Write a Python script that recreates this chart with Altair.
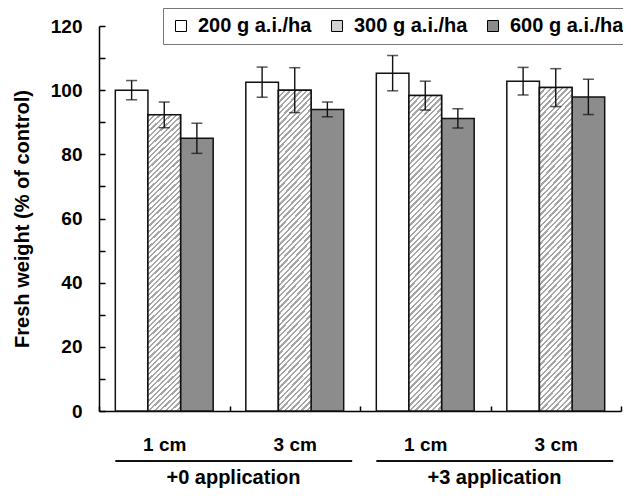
import altair as alt
import pandas as pd

# ---------------- data ----------------
groups = ["+0|1 cm", "+0|3 cm", "+3|1 cm", "+3|3 cm"]
series = ["200 g a.i./ha", "300 g a.i./ha", "600 g a.i./ha"]

mean_200 = [100.0, 102.5, 105.3, 102.8]
mean_300 = [92.3, 100.0, 98.3, 100.8]
mean_600 = [85.0, 94.0, 91.2, 97.9]

err_200 = [3.0, 4.7, 5.5, 4.3]
err_300 = [4.0, 7.0, 4.5, 5.9]
err_600 = [4.7, 2.3, 3.0, 5.5]

apps = ["+0 application", "+3 application"]
app_first = ["+0|1 cm", "+3|1 cm"]
app_last = ["+0|3 cm", "+3|3 cm"]

y_ticks = [0, 10, 20, 30, 40, 50, 60, 70, 80, 90, 100, 110, 120]

# ---------------- tables ----------------
rows = []
for s, ms, es in zip(series, [mean_200, mean_300, mean_600], [err_200, err_300, err_600]):
    for g, m, e in zip(groups, ms, es):
        rows.append({"group": g, "series": s, "mean": m, "lo": m - e, "hi": m + e})
df = pd.DataFrame(rows)
app_df = pd.DataFrame({"app": apps, "first": app_first, "last": app_last})

FONT = "Liberation Sans"
W, H = 522, 385
PAD = {"left": 91, "top": 18, "right": 2, "bottom": 79}

# hatch gradient ("/" stripes) for the 300 g bars
bw, bh = 32.7, 310.0
k = (bw + bh) / (bw * bw + bh * bh)
period = 5.5
n = int(round((bw + bh) / period))
frac = 0.42
stops = []
for i in range(n):
    a = i / n
    b = (i + frac) / n
    c = (i + 1) / n
    stops += [
        alt.GradientStop(color="#a6a6a6", offset=a),
        alt.GradientStop(color="#a6a6a6", offset=b),
        alt.GradientStop(color="#ffffff", offset=b),
        alt.GradientStop(color="#ffffff", offset=c),
    ]
hatch = alt.LinearGradient(gradient="linear", stops=stops, x1=0, y1=0, x2=k * bw, y2=k * bh)

x_scale = alt.Scale(domain=groups, paddingInner=0, paddingOuter=0)
xo_scale = alt.Scale(domain=series, paddingInner=0, paddingOuter=0.5)
y_scale = alt.Scale(domain=[0, 120], nice=False, zero=True)

x_axis = alt.Axis(
    title=None,
    labelExpr="split(datum.label, '|')[1]",
    labelAngle=0,
    tickBand="extent",
    tickSize=alt.ExprRef(expr="-5"),
    tickWidth=1.5,
    tickColor="black",
    domainColor="black",
    domainWidth=1.5,
    labelPadding=29,
    labelFont=FONT,
    labelFontSize=19,
    labelFontWeight="bold",
    labelColor="black",
)
y_axis = alt.Axis(
    title="Fresh weight (% of control)",
    values=y_ticks,
    labelExpr="datum.value % 20 == 0 ? datum.label : ''",
    tickSize=alt.ExprRef(expr="-6"),
    tickWidth=1.5,
    tickColor="black",
    domainColor="black",
    domainWidth=1.5,
    labelPadding=23,
    labelFont=FONT,
    labelFontSize=19,
    labelFontWeight="bold",
    labelColor="black",
    titleFont=FONT,
    titleFontSize=20,
    titleFontWeight="bold",
    titleColor="black",
    titlePadding=18,
    grid=False,
)

X = alt.X("group:N", scale=x_scale, axis=x_axis)
XO = alt.XOffset("series:N", scale=xo_scale)
Y = alt.Y("mean:Q", scale=y_scale, axis=y_axis)

base = alt.Chart(df)

bars = base.mark_bar(stroke="#111111", strokeWidth=1.5).encode(
    x=X,
    xOffset=XO,
    y=Y,
    fill=alt.Fill(
        "series:N",
        scale=alt.Scale(domain=series, range=["#ffffff", "#d2d2d2", "#8c8c8c"]),
        legend=alt.Legend(
            title=None,
            orient="none",
            legendX=64,
            legendY=-18,
            direction="horizontal",
            fillColor="white",
            strokeColor="#777777",
            padding=8,
            symbolType="square",
            symbolSize=121,
            symbolStrokeColor="black",
            symbolStrokeWidth=1,
            labelFont=FONT,
            labelFontSize=20,
            labelFontWeight="bold",
            labelColor="black",
            labelOffset=7,
            columnPadding=15,
            labelLimit=300,
        ),
    ),
)

hatched = base.transform_filter(alt.datum.series == series[1]).mark_bar(
    stroke="#111111", strokeWidth=1.5, fill=hatch
).encode(x=X, xOffset=XO, y=Y)

err = base.mark_rule(color="#111111", strokeWidth=1.4).encode(
    x=X, xOffset=XO, y=alt.Y("lo:Q", scale=y_scale, axis=y_axis), y2="hi:Q"
)
cap_lo = base.mark_tick(color="#111111", thickness=1.5, size=11).encode(
    x=X, xOffset=XO, y=alt.Y("lo:Q", scale=y_scale, axis=y_axis)
)
cap_hi = base.mark_tick(color="#111111", thickness=1.5, size=11).encode(
    x=X, xOffset=XO, y=alt.Y("hi:Q", scale=y_scale, axis=y_axis)
)

app_base = alt.Chart(app_df)
underline = app_base.mark_rule(color="#111111", strokeWidth=2).encode(
    x=alt.X("first:N", scale=x_scale, axis=x_axis, bandPosition=0.125),
    x2=alt.X2("last:N", bandPosition=0.94),
    y=alt.value(H + 50),
)
app_text = app_base.mark_text(
    font=FONT, fontSize=20, fontWeight="bold", color="black", baseline="alphabetic", align="center"
).encode(
    x=alt.X("last:N", scale=x_scale, axis=x_axis, bandPosition=0.03),
    y=alt.value(H + 73),
    text="app:N",
)

chart = (
    alt.layer(bars, hatched, err, cap_lo, cap_hi, underline, app_text)
    .properties(
        width=W,
        height=H,
        padding=PAD,
        autosize=alt.AutoSizeParams(type="none"),
        background="white",
    )
    .configure_view(stroke=None)
)

chart.save("out.html", embed_options={"renderer": "svg", "actions": False})
